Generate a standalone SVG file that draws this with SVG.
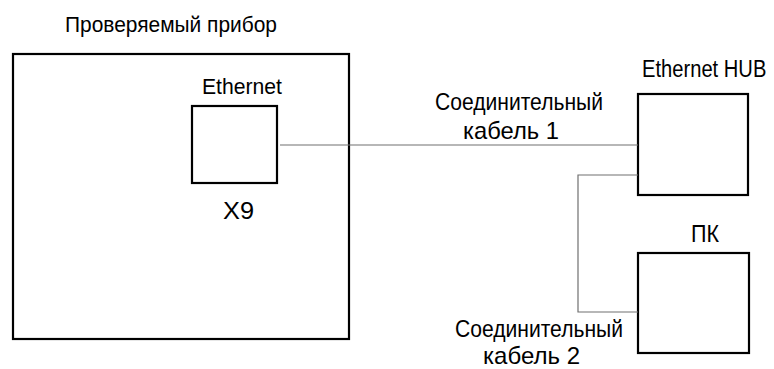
<svg xmlns="http://www.w3.org/2000/svg" width="774" height="369" viewBox="0 0 774 369">
<style>
.box{fill:#fff;stroke:#000;stroke-width:2.2}
.wire{fill:none;stroke:#707070;stroke-width:1.2}
text{font-family:"Liberation Sans",Arial,sans-serif;font-size:22px;fill:#000}
.lg{font-size:24px}
</style>
<rect width="774" height="369" fill="#fff"/>
<g id="device">
<rect class="box" x="13" y="54" width="336" height="285"/>
<text x="65" y="32" textLength="212" lengthAdjust="spacingAndGlyphs">Проверяемый прибор</text>
</g>
<g id="x9">
<rect class="box" x="192" y="106" width="85" height="77"/>
<text x="202" y="94" textLength="80" lengthAdjust="spacingAndGlyphs">Ethernet</text>
<text class="lg" x="223" y="219" textLength="31" lengthAdjust="spacingAndGlyphs">X9</text>
</g>
<g id="hub">
<rect class="box" x="638" y="94" width="110" height="101"/>
<text class="lg" transform="translate(642 77) scale(0.84 1)">Ethernet HUB</text>
</g>
<g id="pc">
<rect class="box" x="638" y="253" width="111" height="100"/>
<text class="lg" x="691" y="242" textLength="28" lengthAdjust="spacingAndGlyphs">ПК</text>
</g>
<g id="connectors">
<path class="wire" d="M280 145H638"/>
<path class="wire" d="M638 175H578V312H638"/>
<text class="lg" x="435" y="110" textLength="168" lengthAdjust="spacingAndGlyphs">Соединительный</text>
<text class="lg" x="463" y="139" textLength="96" lengthAdjust="spacingAndGlyphs">кабель 1</text>
<text class="lg" x="455" y="337" textLength="168" lengthAdjust="spacingAndGlyphs">Соединительный</text>
<text class="lg" x="483" y="364" textLength="97" lengthAdjust="spacingAndGlyphs">кабель 2</text>
</g>
</svg>
